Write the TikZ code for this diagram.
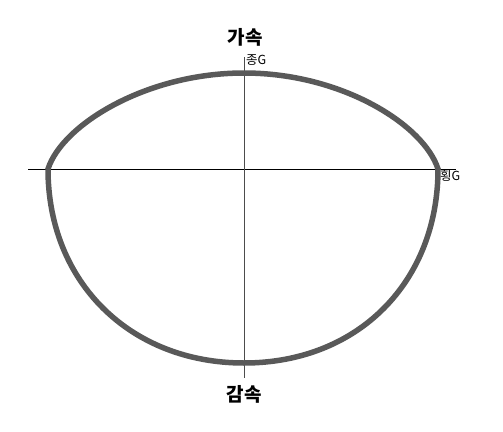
\documentclass[tikz,border=0pt]{standalone}
\usepackage{fontspec}
\newfontfamily\kr{Noto Sans CJK KR}
\begin{document}
\begin{tikzpicture}[x=1pt, y=-1pt,
        axis/.style={line width=0.8pt},
        rim/.style={line width=5.5pt, black!65},
        big/.style={font=\kr\bfseries\fontsize{19}{19}\selectfont, inner sep=0pt},
        small/.style={font=\kr\fontsize{12.5}{12.5}\selectfont, inner sep=0pt}]
            \useasboundingbox (0,0) rectangle (503,431);
            % axes
            \coordinate (xl) at (28,169);
            \coordinate (xr) at (456,169);
            \coordinate (yt) at (244,57);
            \coordinate (yb) at (244,378);
            \draw[axis] (xl) -- (xr);
            \draw[axis, black!70] (yt) -- (yb);
            % friction circle
            \coordinate (L) at (48,169);
            \coordinate (R) at (438,169);
            \coordinate (T) at (244,73);
            \coordinate (B) at (244,363);
            \draw[rim] (L) .. controls (62,125) and (146,73) .. (T)
                .. controls (342,73) and (424,125) .. (R)
                .. controls (438,282) and (358,363) .. (B)
                .. controls (130,363) and (48,282) .. (L) -- cycle;
            % labels
            \node[big] (acc) at (245,37) {가속};
            \node[big] (dec) at (244,394) {감속};
            \node[small, anchor=west] (lon) at (246,60) {종G};
            \node[small, anchor=west] (lat) at (440,176) {횡G};
        \end{tikzpicture}
\end{document}
